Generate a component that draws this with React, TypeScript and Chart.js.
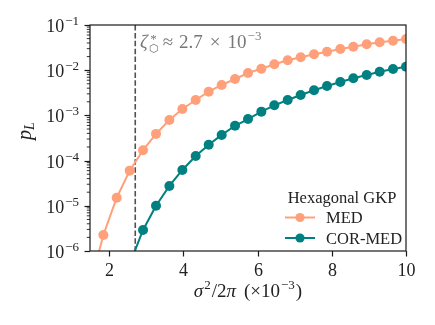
import React, { useEffect, useRef } from 'react';
import { Chart, registerables } from 'chart.js';

Chart.register(...registerables);

// ---- data ----
const xValues = [1.49, 1.84, 2.2, 2.55, 2.91, 3.26, 3.62, 3.97, 4.33, 4.68, 5.03, 5.39, 5.74, 6.1, 6.45, 6.81, 7.16, 7.52, 7.87, 8.23, 8.58, 8.94, 9.29, 9.65, 10.0];
const medValues = [1.8e-7, 2.26e-6, 1.51e-5, 6.0e-5, 1.7e-4, 3.9e-4, 7.9e-4, 1.39e-3, 2.19e-3, 3.34e-3, 4.71e-3, 6.38e-3, 8.67e-3, 1.08e-2, 1.35e-2, 1.66e-2, 1.93e-2, 2.25e-2, 2.56e-2, 2.94e-2, 3.31e-2, 3.74e-2, 4.14e-2, 4.5e-2, 4.9e-2];
const corMedValues = [null, null, 6.3e-8, 5.1e-7, 2.92e-6, 1.0e-5, 2.75e-5, 6.2e-5, 1.26e-4, 2.24e-4, 3.7e-4, 5.9e-4, 8.3e-4, 1.21e-3, 1.67e-3, 2.19e-3, 2.82e-3, 3.59e-3, 4.47e-3, 5.48e-3, 6.62e-3, 7.83e-3, 9.27e-3, 1.06e-2, 1.19e-2];
const seriesNames = ['MED', 'COR-MED'];
const legendTitle = 'Hexagonal GKP';
const xTicks = [2, 4, 6, 8, 10];
const yTickExponents = [-6, -5, -4, -3, -2, -1];
const xMin = 1.48;
const xMax = 10;
const thresholdX = 2.7;
const thresholdMantissa = '2.7';
const thresholdExponent = '−3';

const SERIF = '"Liberation Serif", "DejaVu Serif", serif';
const ORANGE = '#FFA07A';
const TEAL = '#008080';
const AXIS = '#1a1a1a';

type Part = { t: string; size: number; italic?: boolean; dy?: number; gap?: number };

function partFont(p: Part) {
  return `${p.italic ? 'italic ' : ''}${p.size}px ${SERIF}`;
}

function drawRich(ctx: CanvasRenderingContext2D, parts: Part[], x: number, y: number, align: 'left' | 'center' | 'right', color: string) {
  ctx.save();
  ctx.fillStyle = color;
  ctx.textBaseline = 'alphabetic';
  ctx.textAlign = 'left';
  let w = 0;
  const ws = parts.map((p) => {
    ctx.font = partFont(p);
    const m = ctx.measureText(p.t).width;
    w += m + (p.gap ?? 0);
    return m;
  });
  let cx = align === 'left' ? x : align === 'center' ? x - w / 2 : x - w;
  parts.forEach((p, i) => {
    cx += p.gap ?? 0;
    ctx.font = partFont(p);
    ctx.fillText(p.t, cx, y + (p.dy ?? 0));
    cx += ws[i];
  });
  ctx.restore();
  return w;
}

const customPlugin = {
  id: 'customDecor',
  beforeDatasetsDraw(chart: any) {
    const { ctx, chartArea: a, scales } = chart;
    const px = scales.x.getPixelForValue(thresholdX);
    ctx.save();
    ctx.strokeStyle = '#564e54';
    ctx.lineWidth = 1.6;
    ctx.setLineDash([5.5, 2.4]);
    ctx.beginPath();
    ctx.moveTo(px, a.top);
    ctx.lineTo(px, a.bottom);
    ctx.stroke();
    ctx.restore();
  },
  afterDraw(chart: any) {
    const { ctx, chartArea: a, scales } = chart;
    const xs = scales.x;
    const ys = scales.y;
    ctx.save();
    // box
    ctx.strokeStyle = AXIS;
    ctx.lineWidth = 1.2;
    ctx.strokeRect(a.left, a.top, a.right - a.left, a.bottom - a.top);

    // x ticks
    ctx.lineWidth = 1.2;
    xTicks.forEach((v) => {
      const p = Math.round(xs.getPixelForValue(v)) + 0.5;
      ctx.beginPath();
      ctx.moveTo(p, a.bottom);
      ctx.lineTo(p, a.bottom + 5.5);
      ctx.stroke();
      drawRich(ctx, [{ t: String(v), size: 18 }], p, a.bottom + 25, 'center', '#222');
    });

    // y ticks major + minor
    yTickExponents.forEach((e) => {
      const p = Math.round(ys.getPixelForValue(Math.pow(10, e))) + 0.5;
      ctx.lineWidth = 1.2;
      ctx.beginPath();
      ctx.moveTo(a.left, p);
      ctx.lineTo(a.left - 5.5, p);
      ctx.stroke();
      drawRich(
        ctx,
        [
          { t: '10', size: 18, dy: 6 },
          { t: '−' + String(-e), size: 13, dy: -1, gap: 1 },
        ],
        a.left - 11,
        p,
        'right',
        '#222'
      );
      if (e < -1) {
        for (let m = 2; m <= 9; m++) {
          const q = ys.getPixelForValue(m * Math.pow(10, e));
          ctx.lineWidth = 0.9;
          ctx.beginPath();
          ctx.moveTo(a.left, q);
          ctx.lineTo(a.left - 3.2, q);
          ctx.stroke();
        }
      }
    });

    // axis titles
    const cx = (a.left + a.right) / 2;
    drawRich(
      ctx,
      [
        { t: 'σ', size: 19, italic: true },
        { t: '2', size: 13, dy: -8, gap: 1 },
        { t: '/2', size: 19, gap: 1 },
        { t: 'π', size: 19, italic: true },
        { t: '(', size: 19, gap: 8 },
        { t: '×', size: 19 },
        { t: '10', size: 19 },
        { t: '−3', size: 13, dy: -8, gap: 1 },
        { t: ')', size: 19, gap: 1 },
      ],
      cx,
      a.bottom + 46,
      'center',
      '#222'
    );
    ctx.save();
    ctx.translate(31, 131);
    ctx.rotate(-Math.PI / 2);
    drawRich(
      ctx,
      [
        { t: 'p', size: 20, italic: true },
        { t: 'L', size: 14, italic: true, dy: 3 },
      ],
      0,
      0,
      'center',
      '#222'
    );
    ctx.restore();

    // annotation
    const gx = 140;
    const gy = 48;
    const gray = '#777777';
    const w = drawRich(ctx, [{ t: 'ζ', size: 19, italic: true }], gx, gy, 'left', gray);
    drawRich(ctx, [{ t: '*', size: 13 }], gx + w + 2.5, gy - 5, 'left', gray);
    drawRich(ctx, [{ t: '⬡', size: 11 }], gx + w + 1, gy + 4, 'left', gray);
    drawRich(
      ctx,
      [
        { t: '≈', size: 19 },
        { t: thresholdMantissa, size: 19, gap: 6 },
        { t: '×', size: 19, gap: 7 },
        { t: '10', size: 19, gap: 7 },
        { t: thresholdExponent, size: 13, dy: -8, gap: 1 },
      ],
      gx + w + 15,
      gy,
      'left',
      gray
    );

    // legend
    drawRich(ctx, [{ t: legendTitle, size: 16.5 }], 342, 203, 'center', '#222');
    const rows = [
      { name: seriesNames[0], color: ORANGE, y: 217.5 },
      { name: seriesNames[1], color: TEAL, y: 238 },
    ];
    rows.forEach((r) => {
      ctx.strokeStyle = r.color;
      ctx.lineWidth = 2;
      ctx.beginPath();
      ctx.moveTo(285, r.y);
      ctx.lineTo(315, r.y);
      ctx.stroke();
      ctx.fillStyle = r.color;
      ctx.beginPath();
      ctx.arc(300, r.y, 4.6, 0, Math.PI * 2);
      ctx.fill();
      drawRich(ctx, [{ t: r.name, size: 16.5 }], 326, r.y + 5.5, 'left', '#222');
    });
    ctx.restore();
  },
};

function toPoints(vals: (number | null)[]) {
  const out: { x: number; y: number }[] = [];
  vals.forEach((v, i) => {
    if (v !== null) out.push({ x: xValues[i], y: v });
  });
  return out;
}

export default function App() {
  const ref = useRef<HTMLCanvasElement | null>(null);
  useEffect(() => {
    if (!ref.current) return;
    const chart = new Chart(ref.current, {
      type: 'line',
      data: {
        datasets: [
          {
            label: seriesNames[0],
            data: toPoints(medValues),
            borderColor: ORANGE,
            backgroundColor: ORANGE,
            borderWidth: 2,
            pointRadius: 5,
            pointBorderWidth: 0,
            pointBackgroundColor: ORANGE,
            tension: 0,
            clip: 0,
          },
          {
            label: seriesNames[1],
            data: toPoints(corMedValues),
            borderColor: TEAL,
            backgroundColor: TEAL,
            borderWidth: 2,
            pointRadius: 5,
            pointBorderWidth: 0,
            pointBackgroundColor: TEAL,
            tension: 0,
            clip: 0,
          },
        ],
      },
      options: {
        animation: false,
        responsive: false,
        devicePixelRatio: 1,
        layout: { padding: { left: 90, right: 29, top: 25, bottom: 74 } },
        plugins: { legend: { display: false }, tooltip: { enabled: false } },
        scales: {
          x: { type: 'linear', min: xMin, max: xMax, display: false },
          y: { type: 'logarithmic', min: 1e-6, max: 1e-1, display: false },
        },
      } as any,
      plugins: [customPlugin],
    });
    return () => chart.destroy();
  }, []);
  return (
    <div style={{ position: 'fixed', left: 0, top: 0, width: 435, height: 325, background: '#fff' }}>
      <canvas ref={ref} width={435} height={325} style={{ display: 'block', width: 435, height: 325 }} />
    </div>
  );
}
